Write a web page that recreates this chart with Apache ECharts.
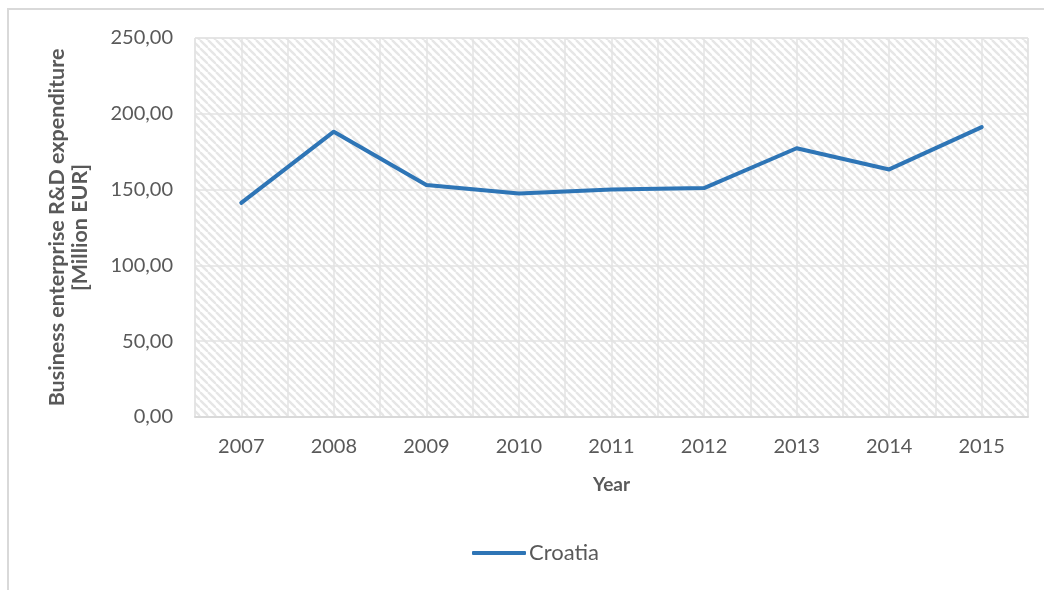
<!DOCTYPE html>
<html>
<head>
<meta charset="utf-8">
<style>
  html, body { margin: 0; padding: 0; background: #ffffff; }
  #frame { position: absolute; left: 7px; top: 8px; right: 0; bottom: 0;
           border-top: 2px solid #d9d9d9; border-left: 2px solid #d9d9d9; }
  #chart { position: absolute; left: 0; top: 0; width: 1044px; height: 590px; }
</style>
<script src="https://cdn.jsdelivr.net/npm/echarts@6/dist/echarts.min.js"></script>
</head>
<body>
<div id="frame"></div>
<div id="chart"></div>
<script>
// Business enterprise R&D expenditure, Croatia (million EUR)
const years = ['2007', '2008', '2009', '2010', '2011', '2012', '2013', '2014', '2015'];
const croatia = [141.3, 188.2, 153.0, 147.5, 150.0, 151.0, 177.3, 163.3, 191.2];
const yTicks = [0, 50, 100, 150, 200, 250];

// Diagonal hatch tile for the plot area
function hatchTile() {
  const s = 8;
  const c = document.createElement('canvas');
  c.width = s; c.height = s;
  const g = c.getContext('2d');
  g.fillStyle = '#ffffff';
  g.fillRect(0, 0, s, s);
  g.strokeStyle = '#e6e6e6';
  g.lineWidth = 2.4;
  for (const k of [-s, 0, s]) {
    g.beginPath();
    g.moveTo(k, 0);
    g.lineTo(k + s, s);
    g.stroke();
  }
  return c;
}

const textColor = '#595959';
const font = 'Lato, "Open Sans", sans-serif';
const chart = echarts.init(document.getElementById('chart'), null, { renderer: 'canvas' });

chart.setOption({
  animation: false,
  textStyle: { fontFamily: font },
  grid: {
    left: 195, right: 16, top: 38, bottom: 173,
    show: true,
    backgroundColor: { image: hatchTile(), repeat: 'repeat' },
    borderColor: '#d9d9d9', borderWidth: 1
  },
  legend: {
    bottom: 21, left: 467,
    icon: 'roundRect',
    itemWidth: 54, itemHeight: 4, itemGap: 10,
    textStyle: { color: textColor, fontSize: 22, fontFamily: font, padding: [0, 0, 0, -2] },
    data: ['Croatia']
  },
  xAxis: [{
    type: 'category',
    data: years,
    boundaryGap: true,
    name: 'Year',
    nameLocation: 'middle',
    nameGap: 58,
    nameTextStyle: { color: textColor, fontSize: 19, fontWeight: 'bold', fontFamily: font },
    axisLine: { show: true, lineStyle: { color: '#d9d9d9', width: 2 } },
    axisTick: { show: false },
    axisLabel: { color: textColor, fontSize: 20, margin: 20, fontFamily: font },
    splitLine: { show: false }
  }, {
    // half-category gridlines
    type: 'value',
    min: 0, max: 18, interval: 1,
    position: 'bottom',
    show: true,
    axisLine: { show: false },
    axisTick: { show: false },
    axisLabel: { show: false },
    splitLine: { show: true, lineStyle: { color: '#e3e3e3', width: 1.5 } }
  }],
  yAxis: {
    type: 'value',
    min: yTicks[0], max: yTicks[yTicks.length - 1], interval: 50,
    name: 'Business enterprise R&D expenditure\n[Million EUR]',
    nameLocation: 'middle',
    nameGap: 103,
    nameRotate: 90,
    nameTextStyle: { color: textColor, fontSize: 21.5, fontWeight: 'bold', lineHeight: 23, fontFamily: font },
    axisLine: { show: false },
    axisTick: { show: false },
    axisLabel: {
      color: textColor, fontSize: 20, margin: 22, fontFamily: font,
      formatter: v => v.toFixed(2).replace('.', ',')
    },
    splitLine: { show: true, lineStyle: { color: '#e3e3e3', width: 1.5 } }
  },
  series: [{
    name: 'Croatia',
    type: 'line',
    xAxisIndex: 0,
    data: croatia,
    symbol: 'none',
    lineStyle: { color: '#2e75b6', width: 4, cap: 'round', join: 'round' },
    itemStyle: { color: '#2e75b6' }
  }]
});
</script>
</body>
</html>
